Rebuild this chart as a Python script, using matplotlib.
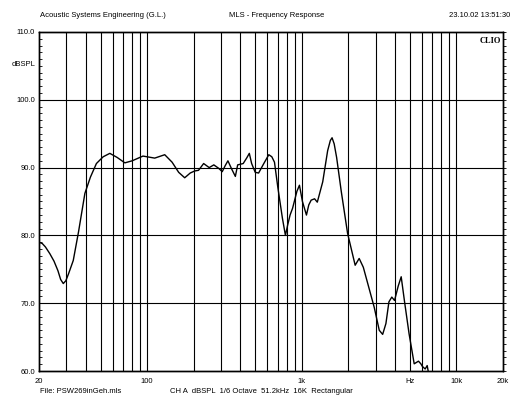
import matplotlib
matplotlib.use("Agg")
from matplotlib import pyplot as plt
from matplotlib.ticker import FixedLocator, NullFormatter, MultipleLocator

# frequency response
freq = [20, 21, 22, 23.5, 25, 26.5, 27.6, 28.7, 29.8, 31, 33.3, 36, 39.6, 43,
        47, 52, 57.4, 64, 71.8, 80, 94, 112, 130, 145, 160, 175, 190, 203,
        215, 232, 252, 270, 290, 306, 320, 333, 352, 372, 385, 418, 440, 458,
        474, 500, 526, 565, 612, 640, 666, 700, 750, 784, 810, 840, 872, 930,
        966, 1010, 1072, 1110, 1150, 1210, 1260, 1366, 1470, 1530, 1570, 1620,
        1680, 1800, 1978, 2214, 2350, 2500, 2940, 3170, 3334, 3500, 3660,
        3820, 3980, 4200, 4394, 4620, 4940, 5332, 5682, 5888, 6030, 6280,
        6470, 6590, 7000]
spl = [79.0, 78.8, 78.3, 77.3, 76.2, 74.8, 73.5, 72.9, 73.3, 74.3, 76.3, 80.5,
       86.2, 88.6, 90.6, 91.6, 92.1, 91.5, 90.7, 91.0, 91.7, 91.4, 91.9,
       90.8, 89.3, 88.5, 89.2, 89.5, 89.6, 90.6, 90.0, 90.4, 89.9, 89.4, 90.3,
       91.0, 89.8, 88.7, 90.4, 90.6, 91.4, 92.1, 90.6, 89.3, 89.2, 90.5, 91.9,
       91.6, 90.8, 87.1, 82.5, 80.0, 81.5, 83.0, 84.0, 86.5, 87.4, 85.0, 83.0,
       84.5, 85.2, 85.4, 84.9, 87.9, 92.5, 94.0, 94.4, 93.5, 91.5, 86.5, 80.3,
       75.6, 76.6, 75.3, 69.4, 66.0, 65.4, 67.0, 70.2, 70.9, 70.4, 72.5, 73.9,
       70.2, 65.5, 61.06, 61.45, 61.06, 60.66, 60.3, 60.8, 59.8, 58.0]

grid_freqs = [30, 40, 50, 60, 70, 80, 90, 100, 200, 300, 400, 500, 600, 700,
              800, 900, 1000, 2000, 3000, 4000, 5000, 6000, 7000, 8000, 9000,
              10000]
x_ticks = [20, 100, 1000, 5000, 10000, 20000]
x_labels = ["20", "100", "1k", "Hz", "10k", "20k"]
y_ticks = [60, 70, 80, 90, 100, 110]

plt.rcParams['font.family'] = ['Liberation Sans', 'DejaVu Sans']

fig = plt.figure(figsize=(5.12, 4.0), dpi=100)
ax = fig.add_axes([0.0762, 0.0725, 0.9062, 0.8475])

ax.set_xscale('log')
ax.set_xlim(20, 20000)
ax.set_ylim(60, 110)

for f in grid_freqs:
    ax.axvline(f, color='black', lw=0.8, zorder=1)
for y in [70, 80, 90, 100]:
    ax.axhline(y, color='black', lw=0.8, zorder=1)

ax.plot(freq, spl, color='black', lw=1.0, zorder=3, clip_on=True)

ax.xaxis.set_major_locator(FixedLocator(x_ticks))
ax.xaxis.set_minor_formatter(NullFormatter())
ax.set_xticks(x_ticks)
ax.set_xticklabels(x_labels)
ax.tick_params(axis='x', which='both', length=0, labelsize=5.5, pad=5)

ax.set_yticks(y_ticks)
ax.set_yticklabels(["%.1f" % v for v in y_ticks])
ax.yaxis.set_minor_locator(MultipleLocator(1))
ax.tick_params(axis='y', which='both', direction='in', length=2.5,
               width=0.6, labelsize=5.5, pad=3)
ax.tick_params(axis='y', which='major', length=0)

# right side ticks sit outside the frame
ax2 = ax.twinx()
ax2.set_ylim(60, 110)
ax2.yaxis.set_minor_locator(MultipleLocator(1))
ax2.set_yticks([])
ax2.tick_params(axis='y', which='minor', direction='out', length=2.5,
                width=0.6, labelright=False)

for a in (ax, ax2):
    for s in a.spines.values():
        s.set_linewidth(1.0)

fig.text(0.0685, 0.84, "dBSPL", ha='right', va='center', fontsize=5.5)
ax.text(0.995, 0.985, "CLIO", transform=ax.transAxes, ha='right', va='top',
        fontsize=6, fontweight='bold', family='Liberation Serif')

fig.text(0.078, 0.962, "Acoustic Systems Engineering (G.L.)", fontsize=5.5,
         ha='left', va='center')
fig.text(0.54, 0.962, "MLS - Frequency Response", fontsize=5.5,
         ha='center', va='center')
fig.text(0.996, 0.962, "23.10.02 13:51:30", fontsize=5.5,
         ha='right', va='center')
fig.text(0.078, 0.012, "File: PSW269inGeh.mls", fontsize=5.5,
         ha='left', va='bottom')
fig.text(0.333, 0.012, "CH A  dBSPL  1/6 Octave  51.2kHz  16K  Rectangular",
         fontsize=5.5, ha='left', va='bottom')

fig.savefig("out.png", dpi=100)
